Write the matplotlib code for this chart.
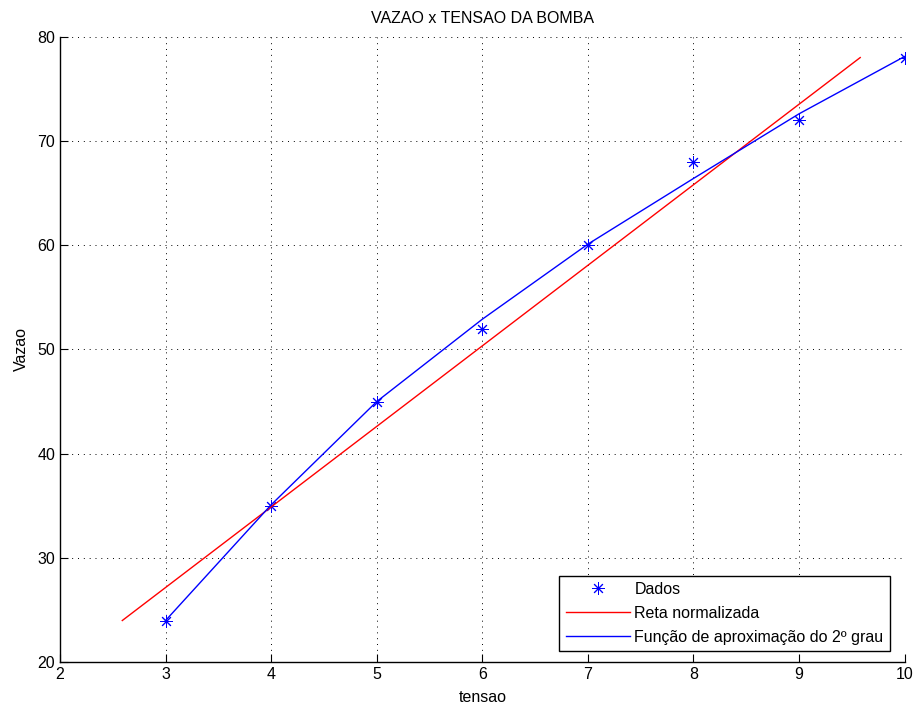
import matplotlib
matplotlib.use('Agg')
import matplotlib.pyplot as plt

plt.rcParams['font.family'] = ['Liberation Sans', 'DejaVu Sans']

# dados medidos
tensao = [3, 4, 5, 6, 7, 8, 9, 10]
vazao = [24, 35, 45, 52, 60, 68, 72, 78]

# reta normalizada (extremos)
reta_x = [2.59, 9.58]
reta_y = [24.0, 78.0]

aprox_y = [24.0, 35.1, 45.0, 52.9, 60.1, 66.4, 72.6, 78.1]

xticks = [2, 3, 4, 5, 6, 7, 8, 9, 10]
yticks = [20, 30, 40, 50, 60, 70, 80]

fig = plt.figure(figsize=(9.16, 7.06), dpi=100)
ax = fig.add_axes([0.0655, 0.062, 0.922, 0.886])

ax.plot(tensao, vazao, linestyle='none', marker=(8, 2, 0), markersize=9,
        markeredgewidth=0.7, color='blue', label='Dados')
ax.plot(reta_x, reta_y, color='red', linewidth=1.0, label='Reta normalizada')
ax.plot(tensao, aprox_y, color='blue', linewidth=1.0,
        label='Função de aproximação do 2º grau')

ax.set_xlim(2, 10)
ax.set_ylim(20, 80)
ax.set_xticks(xticks)
ax.set_yticks(yticks)
ax.grid(True, color='black', linestyle=(0, (1, 5)), linewidth=0.7)
ax.tick_params(direction='in', length=6, labelsize=11.5, colors='black')
for s in ['top', 'right']:
    ax.spines[s].set_visible(False)
for s in ['left', 'bottom']:
    ax.spines[s].set_linewidth(1.0)

ax.set_title('VAZAO x TENSAO DA BOMBA', fontsize=11.5, pad=10)
ax.set_xlabel('tensao', fontsize=11.5, labelpad=6)
ax.set_ylabel('Vazao', fontsize=11.5, labelpad=6)

leg = ax.legend(loc='lower right', fontsize=11.5, fancybox=False,
                framealpha=1, edgecolor='black', borderaxespad=0.7,
                handlelength=4.0, handletextpad=0.3, labelspacing=0.55,
                borderpad=0.4, bbox_to_anchor=(0.996, 0.0))
leg.get_frame().set_linewidth(1.0)

fig.savefig('out.png', dpi=100)
